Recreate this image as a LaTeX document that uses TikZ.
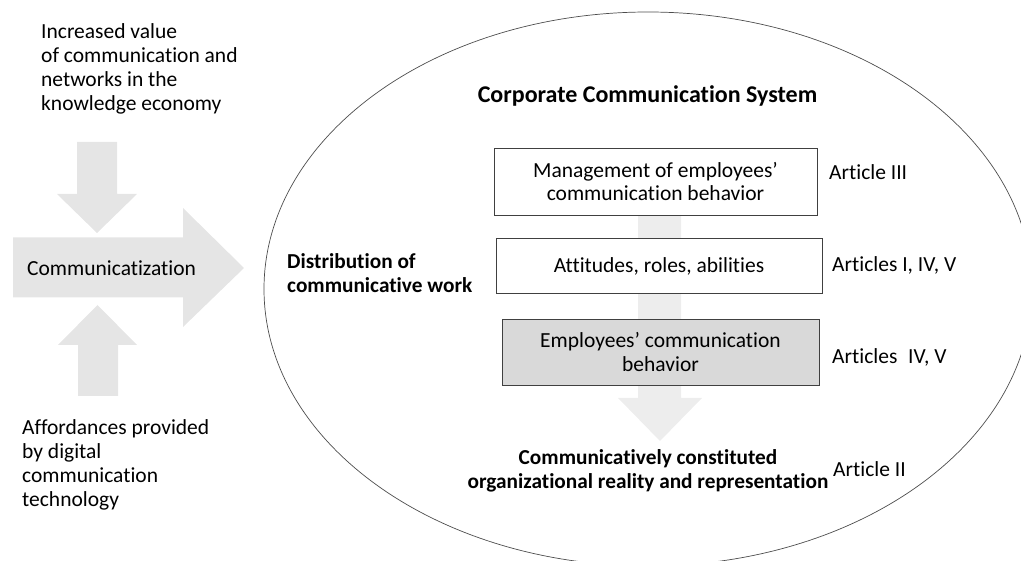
\documentclass[tikz,border=0pt]{standalone}
\usepackage{fontspec}
\setmainfont{Carlito}[Ligatures={TeX,NoCommon}]
\begin{document}
\begin{tikzpicture}[x=1pt,y=-1pt,
  txt/.style={font=\fontsize{21.5}{24}\selectfont, inner sep=0pt, align=left},
  btxt/.style={font=\fontsize{21.3}{24.5}\selectfont\bfseries, inner sep=0pt},
  box/.style={draw=black!75, line width=0.9pt, fill=white, inner sep=0pt,
    align=center, font=\fontsize{21.5}{23.5}\selectfont},
  blockarrow/.style={fill=black!10},
  lightarrow/.style={fill=black!7}
]
\useasboundingbox (0,0) rectangle (1021,561);
\clip (0,0) rectangle (1021,561);

% driving forces: two vertical block arrows and the main horizontal one
\fill[blockarrow] (77,142) -- (117,142) -- (117,194) -- (137,194) -- (97,233)
  -- (57,194) -- (77,194) -- cycle;
\fill[blockarrow] (13,237.5) -- (183,237.5) -- (183,208) -- (244,268)
  -- (183,327) -- (183,297.5) -- (13,297.5) -- cycle;
\fill[blockarrow] (78,396) -- (118,396) -- (118,345) -- (137,345) -- (97.5,305)
  -- (58,345) -- (78,345) -- cycle;

% multi-line texts are placed by the baseline of their last line
\node[txt, anchor=base west] (value) at (41,111)
  {Increased value\\of communication and\\networks in the\\knowledge economy};
\node[txt, anchor=base west] (afford) at (22,506)
  {Affordances provided\\by digital\\communication\\technology};
\node[txt, anchor=base west] (comm) at (27,275.5) {Communicatization};

% the corporate communication system
\draw[black!70, line width=0.7pt] (648,289) ellipse [x radius=384, y radius=277];

\node[btxt, font=\fontsize{24}{28}\selectfont\bfseries, anchor=base] (ccs) at (647.5,102.5)
  {Corporate Communication System};
\node[btxt, anchor=base west, align=left] (dist) at (287,293)
  {Distribution of\\communicative work};
\node[btxt, anchor=base, align=center] (reality) at (648,488.5)
  {Communicatively constituted\\organizational reality and representation};

% flow from management down to organizational reality
\coordinate (flowtop) at (659.5,195);
\coordinate (flowtip) at (660,441);
\fill[lightarrow] (638,195) -- (681,195) -- (681,398) -- (702,398) -- (flowtip)
  -- (618,398) -- (638,398) -- cycle;

\node[box, minimum width=323pt, minimum height=67pt] (mgmt) at (655.5,181.5)
  {Management of employees’\\communication behavior};
\node[box, minimum width=326pt, minimum height=55pt] (attr) at (659,266)
  {Attitudes, roles, abilities};
\node[box, fill=black!15, minimum width=317pt, minimum height=66pt] (behav) at (660.5,352)
  {Employees’ communication\\behavior};

\node[txt, anchor=base west] (a3) at (829,180) {Article III};
\node[txt, anchor=base west] (a145) at (832,272) {Articles I, IV, V};
\node[txt, anchor=base west] (a45) at (832,364) {Articles\hspace{0.5em}IV, V};
\node[txt, anchor=base west] (a2) at (833,477) {Article II};
\end{tikzpicture}
\end{document}
